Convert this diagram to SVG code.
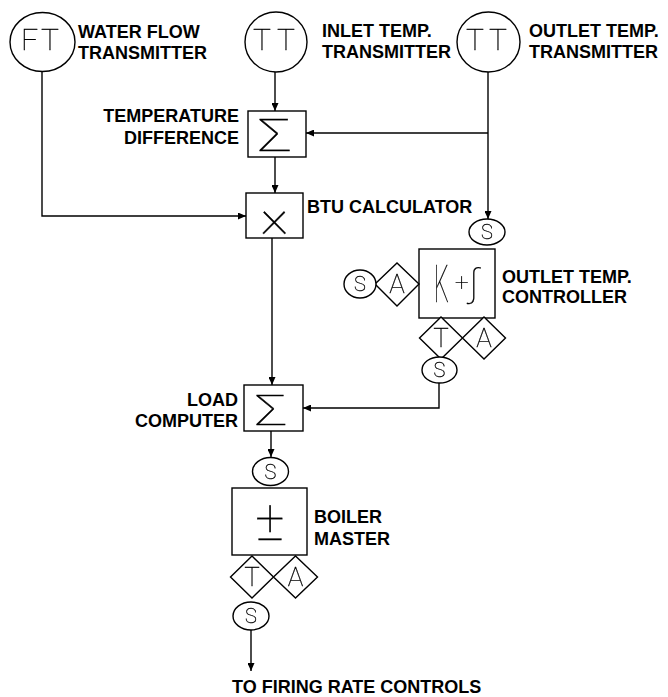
<svg xmlns="http://www.w3.org/2000/svg" width="668" height="697" viewBox="0 0 668 697">
<defs>
<style>
.bg{fill:#fff}
.sh{fill:#fff;stroke:#000;stroke-width:1.4}
.ln{fill:none;stroke:#000;stroke-width:1.4}
.lbl{font-family:"Liberation Sans",Arial,sans-serif;font-weight:bold;font-size:18px;fill:#000}
.sym{font-family:Roboto,"DejaVu Sans",sans-serif;font-weight:100;fill:#000;stroke:#000;stroke-width:0.3;filter:url(#gray)}
</style>
<filter id="gray" x="-20%" y="-20%" width="140%" height="140%">
<feColorMatrix type="saturate" values="0"/>
</filter>
<marker id="ah" markerUnits="userSpaceOnUse" markerWidth="8" markerHeight="7" refX="8" refY="3.5" orient="auto">
<path d="M0,0 L8,3.5 L0,7 z" fill="#000"/>
</marker>
</defs>
<rect class="bg" width="668" height="697"/>
<g id="connectors">
<path class="ln" d="M275,72 V111" marker-end="url(#ah)"/>
<path class="ln" d="M488,72 V219" marker-end="url(#ah)"/>
<path class="ln" d="M488,133 H306" marker-end="url(#ah)"/>
<path class="ln" d="M275,157 V193" marker-end="url(#ah)"/>
<path class="ln" d="M42,71 V216 H246" marker-end="url(#ah)"/>
<path class="ln" d="M272,238 V385" marker-end="url(#ah)"/>
<path class="ln" d="M439,383 V408 H303" marker-end="url(#ah)"/>
<path class="ln" d="M271,431 V457" marker-end="url(#ah)"/>
<path class="ln" d="M251,630 V671" marker-end="url(#ah)"/>
</g>
<g id="ft">
<ellipse class="sh" cx="42.5" cy="42" rx="32.5" ry="29.5"/>
<text class="sym" font-size="30" x="21 41" y="50">FT</text>
<text class="lbl" x="78" y="38">WATER FLOW</text>
<text class="lbl" x="78" y="59">TRANSMITTER</text>
</g>
<g id="tt-inlet">
<ellipse class="sh" cx="276" cy="42" rx="31" ry="30"/>
<text class="sym" font-size="30" x="253 277" y="50">TT</text>
<text class="lbl" x="322" y="37">INLET TEMP.</text>
<text class="lbl" x="322" y="58">TRANSMITTER</text>
</g>
<g id="tt-outlet">
<ellipse class="sh" cx="488.5" cy="42" rx="31.5" ry="30"/>
<text class="sym" font-size="30" x="466 489" y="50">TT</text>
<text class="lbl" x="529" y="37">OUTLET TEMP.</text>
<text class="lbl" x="529" y="58">TRANSMITTER</text>
</g>
<g id="temp-diff">
<rect class="sh" x="248" y="111" width="58" height="46"/>
<text class="sym" font-size="44" transform="translate(258 151) scale(1.4 1)">Σ</text>
<text class="lbl" x="239" y="122" text-anchor="end">TEMPERATURE</text>
<text class="lbl" x="239" y="144" text-anchor="end">DIFFERENCE</text>
</g>
<g id="btu">
<rect class="sh" x="246" y="193" width="57" height="45"/>
<text class="sym" font-size="56" x="274.5" y="234" text-anchor="middle">×</text>
<text class="lbl" x="307" y="213">BTU CALCULATOR</text>
</g>
<g id="controller">
<ellipse class="sh" cx="487" cy="232" rx="18" ry="13"/>
<text class="sym" font-size="20" x="487" y="239" text-anchor="middle">S</text>
<rect class="sh" x="419" y="249" width="76" height="69"/>
<text class="sym" font-size="52" transform="translate(434 302) scale(0.45 1)">K</text>
<text class="sym" font-size="24" x="455" y="290">+</text>
<text class="sym" font-size="38" x="470" y="296">∫</text>
<path class="sh" d="M375,284 L397,263 L419,284 L397,306 z"/>
<text class="sym" font-size="26" x="397" y="293" text-anchor="middle">A</text>
<ellipse class="sh" cx="360" cy="284" rx="16" ry="14"/>
<text class="sym" font-size="20" x="360" y="291" text-anchor="middle">S</text>
<path class="sh" d="M419.5,338 L441,317 L462.5,338 L441,359 z"/>
<text class="sym" font-size="26" x="441" y="347" text-anchor="middle">T</text>
<path class="sh" d="M462.5,338 L484,317 L505.5,338 L484,359 z"/>
<text class="sym" font-size="26" x="484" y="347" text-anchor="middle">A</text>
<ellipse class="sh" cx="439.5" cy="370" rx="17.5" ry="13"/>
<text class="sym" font-size="20" x="439.5" y="377" text-anchor="middle">S</text>
<text class="lbl" x="502" y="283">OUTLET TEMP.</text>
<text class="lbl" x="502" y="303">CONTROLLER</text>
</g>
<g id="load">
<rect class="sh" x="244" y="385" width="59" height="46"/>
<text class="sym" font-size="42" transform="translate(255 425) scale(1.4 1)">Σ</text>
<text class="lbl" x="238" y="406" text-anchor="end">LOAD</text>
<text class="lbl" x="238" y="427" text-anchor="end">COMPUTER</text>
</g>
<g id="boiler">
<ellipse class="sh" cx="270.5" cy="471.5" rx="18" ry="14"/>
<text class="sym" font-size="20" x="270.5" y="478.5" text-anchor="middle">S</text>
<rect class="sh" x="232" y="488" width="75" height="67"/>
<text class="sym" font-size="56" x="270" y="540" text-anchor="middle">±</text>
<text class="lbl" x="314" y="523">BOILER</text>
<text class="lbl" x="314" y="545">MASTER</text>
<path class="sh" d="M230.5,577 L252,556 L273.5,577 L252,598 z"/>
<text class="sym" font-size="26" x="252" y="586" text-anchor="middle">T</text>
<path class="sh" d="M273.5,577 L295.5,556 L317.5,577 L295.5,598 z"/>
<text class="sym" font-size="26" x="295.5" y="586" text-anchor="middle">A</text>
<ellipse class="sh" cx="251" cy="616" rx="18" ry="14"/>
<text class="sym" font-size="20" x="251" y="623" text-anchor="middle">S</text>
<text class="lbl" x="232" y="693">TO FIRING RATE CONTROLS</text>
</g>
</svg>
